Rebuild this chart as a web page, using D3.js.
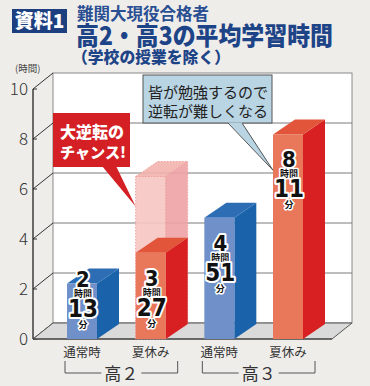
<!DOCTYPE html>
<html><head><meta charset="utf-8">
<script src="https://cdn.jsdelivr.net/npm/d3@7"></script>
<style>
html,body{margin:0;padding:0;background:#efedea;}
svg{display:block;}
text{font-family:"Noto Sans CJK JP","Noto Sans",sans-serif;}
</style></head><body>
<svg id="c" width="370" height="386"></svg>
<script>
// ---- data ----
const categories = ["高2通常時","高2夏休み","高3通常時","高3夏休み"];
const catLabels = ["通常時","夏休み","通常時","夏休み"];
const groupNames = ["高２","高３"];
const groupOf = [0,0,1,1];
const periodType = ["normal","summer","normal","summer"];
const hours = [2,3,4,8];
const minutes = [13,27,51,11];
const ghostCategory = "高2夏休み";
const ghostValue = 6.5;
const yTicks = [0,2,4,6,8,10];
const titleTag = "資料1";
const titleLines = ["難関大現役合格者","高2・高3の平均学習時間","（学校の授業を除く）"];
const unitLabel = "(時間)";
const calloutRed = ["大逆転の","チャンス!"];
const calloutBlue = ["皆が勉強するので","逆転が難しくなる"];

const values = hours.map((h,i)=>h+minutes[i]/60);

const svg = d3.select("#c");
const navy = "#1e4488";

// ---- title ----
svg.append("rect").attr("x",12).attr("y",9).attr("width",55).attr("height",24).attr("fill","#1d3f80");
svg.append("text").attr("x",39.5).attr("y",28).attr("text-anchor","middle").attr("fill","#fff")
  .attr("font-size",19).attr("font-weight",900).text(titleTag);
svg.append("text").attr("x",77).attr("y",20).attr("fill","#2a4f92").attr("font-size",16.5).attr("font-weight",700).text(titleLines[0]);
svg.append("text").attr("x",76).attr("y",45).attr("fill",navy).attr("font-size",25).attr("font-weight",900)
  .attr("textLength",257).attr("lengthAdjust","spacingAndGlyphs").text(titleLines[1]);
svg.append("text").attr("x",72).attr("y",63).attr("fill",navy).attr("font-size",16).attr("font-weight",900)
  .attr("textLength",158).attr("lengthAdjust","spacingAndGlyphs").text(titleLines[2]);
svg.append("text").attr("x",15).attr("y",72).attr("fill","#444").attr("font-size",9.5).text(unitLabel);

// ---- scales ----
const y = d3.scaleLinear().domain([0,10]).range([339,89]);
const x = d3.scalePoint().domain(categories).range([82,288]);
const barW = 30;
const wallDx = 20, wallDy = -16;
const barDx = 22, barDy = -15;
const axisX = 33, floorRight = 332;

// ---- back wall ----
const wallL = axisX+wallDx, wallR = floorRight+wallDx;
svg.append("rect").attr("x",wallL).attr("y",y(10)+wallDy).attr("width",wallR-wallL)
  .attr("height",y(0)-y(10)).attr("fill","#fff").attr("stroke","#8a8a8a").attr("stroke-width",1);
yTicks.forEach(t=>{
  if(t>0 && t<10) svg.append("line").attr("x1",wallL).attr("x2",wallR).attr("y1",y(t)+wallDy).attr("y2",y(t)+wallDy)
    .attr("stroke","#7a7a7a").attr("stroke-width",1);
  svg.append("line").attr("x1",axisX).attr("y1",y(t)).attr("x2",wallL).attr("y2",y(t)+wallDy)
    .attr("stroke","#333").attr("stroke-width",1);
  svg.append("line").attr("x1",axisX).attr("y1",y(t)).attr("x2",axisX+4).attr("y2",y(t))
    .attr("stroke","#333").attr("stroke-width",1);
  svg.append("text").attr("x",28).attr("y",y(t)+6).attr("text-anchor","end").attr("fill","#333")
    .attr("font-family","'DejaVu Sans',sans-serif").attr("font-size",17).attr("font-weight",300).text(t);
});
// floor
svg.append("polygon").attr("points",[[axisX,y(0)],[wallL,y(0)+wallDy],[wallR,y(0)+wallDy],[floorRight,y(0)]].join(" "))
  .attr("fill","#dadada").attr("stroke","#555").attr("stroke-width",1);
svg.append("line").attr("x1",axisX).attr("x2",axisX).attr("y1",y(10)).attr("y2",y(0)).attr("stroke","#222").attr("stroke-width",1.3);
svg.append("line").attr("x1",axisX).attr("x2",floorRight).attr("y1",y(0)).attr("y2",y(0)).attr("stroke","#333").attr("stroke-width",1);

// ---- bars ----
const colors = {
  normal:{front:"#6f90c8",side:"#1a63aa",top:"#2d6db4"},
  summer:{front:"#e9775a",side:"#d81f21",top:"#e2553a"},
  ghost:{front:"#f7c6c1",side:"#eea3a5",top:"#f3b3ae"}
};
function box(g, xl, yTop, yBot, c, dashed){
  const xr = xl+barW;
  const gg = g.append("g");
  gg.append("polygon").attr("points",[[xr,yTop],[xr+barDx,yTop+barDy],[xr+barDx,yBot+barDy],[xr,yBot]].join(" ")).attr("fill",c.side);
  gg.append("polygon").attr("points",[[xl,yTop],[xl+barDx,yTop+barDy],[xr+barDx,yTop+barDy],[xr,yTop]].join(" ")).attr("fill",c.top);
  gg.append("rect").attr("x",xl).attr("y",yTop).attr("width",barW).attr("height",yBot-yTop).attr("fill",c.front);
  if(dashed){
    gg.selectAll("*").attr("stroke","#ee9a96").attr("stroke-width",1).attr("stroke-dasharray","1.5,1.5").attr("opacity",0.9);
  }
  return gg;
}
const barsG = svg.append("g");
box(barsG, x(ghostCategory)-barW/2, y(ghostValue), y(0), colors.ghost, true);
categories.forEach((cat,i)=>{
  box(barsG, x(cat)-barW/2, y(values[i]), y(0), colors[periodType[i]], false);
});

// ---- value labels (one text per bar, stacked tspans) ----
const numFont = "'Liberation Sans Narrow','DejaVu Sans Condensed','Liberation Sans',sans-serif";
categories.forEach((cat,i)=>{
  const cx = x(cat)+1;
  const top = Math.min(y(values[i])+18, 272);
  const t = svg.append("text").attr("text-anchor","middle").attr("fill","#111").attr("font-weight",700)
    .attr("stroke","#fff").attr("stroke-linejoin","round").style("paint-order","stroke");
  t.append("tspan").attr("x",cx).attr("y",top+15).attr("font-family",numFont)
    .attr("font-size",22).attr("stroke-width",4).text(hours[i]);
  t.append("tspan").attr("x",cx).attr("y",top+25)
    .attr("font-size",9).attr("stroke-width",3).text("時間");
  t.append("tspan").attr("x",cx).attr("y",top+45).attr("font-family",numFont)
    .attr("font-size",24).attr("stroke-width",4).text(minutes[i]);
  t.append("tspan").attr("x",cx).attr("y",top+56)
    .attr("font-size",9).attr("stroke-width",3).text("分");
});

// ---- callouts ----
const rg = svg.append("g");
const r2x = x(categories[1])-barW/2;
rg.append("polygon").attr("points",[[102,166],[r2x,y(5.3)],[116,166]].join(" ")).attr("fill","#d42024");
rg.append("rect").attr("x",53).attr("y",113).attr("width",77).attr("height",54).attr("fill","#d42024");
rg.append("text").attr("x",60).attr("y",138).attr("fill","#fff").attr("font-size",16).attr("font-weight",900).text(calloutRed[0]);
rg.append("text").attr("x",60).attr("y",158).attr("fill","#fff").attr("font-size",15).attr("font-weight",900)
  .attr("textLength",66).attr("lengthAdjust","spacingAndGlyphs").text(calloutRed[1]);
const bg = svg.append("g");
const b4x = x(categories[3])-barW/2;
bg.append("rect").attr("x",143).attr("y",75).attr("width",129).attr("height",48).attr("fill","#b9d4e3").attr("stroke","#555").attr("stroke-width",1);
bg.append("polygon").attr("points",[[228,122.5],[b4x,y(6.75)],[242,122.5]].join(" ")).attr("fill","#b9d4e3");
bg.append("polyline").attr("points",[[228,123],[b4x,y(6.75)],[242,123]].join(" ")).attr("fill","none").attr("stroke","#555").attr("stroke-width",1);
bg.append("text").attr("x",148).attr("y",98).attr("fill","#222").attr("font-size",15).text(calloutBlue[0]);
bg.append("text").attr("x",148).attr("y",117).attr("fill","#222").attr("font-size",15).text(calloutBlue[1]);

// ---- x labels and group brackets ----
categories.forEach((cat,i)=>{
  svg.append("text").attr("x",x(cat)).attr("y",357).attr("text-anchor","middle").attr("fill","#333")
    .attr("font-size",12.5).text(catLabels[i]);
});
groupNames.forEach((gname,gi)=>{
  const members = categories.filter((c,i)=>groupOf[i]===gi);
  const x0 = x(members[0])-17, x1 = x(members[members.length-1])+27;
  const mid = (x0+x1)/2;
  const by = 373;
  svg.append("path").attr("d",`M${x0},361V${by}H${mid-20}M${mid+20},${by}H${x1}V361`)
    .attr("fill","none").attr("stroke","#555").attr("stroke-width",1);
  svg.append("text").attr("x",mid).attr("y",380).attr("text-anchor","middle").attr("fill","#333")
    .attr("font-size",17).text(gname);
});
</script>
</body></html>
